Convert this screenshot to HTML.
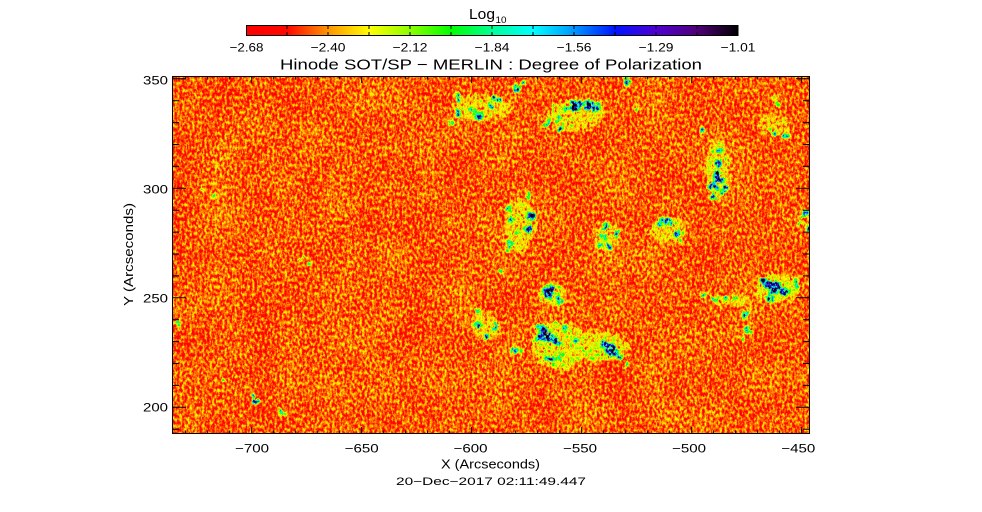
<!DOCTYPE html>
<html><head><meta charset="utf-8"><style>html,body{margin:0;padding:0;background:#fff;}svg{display:block;}text{font-family:"Liberation Sans",sans-serif;fill:#000;}</style></head>
<body>
<svg width="982" height="512" viewBox="0 0 982 512" xmlns="http://www.w3.org/2000/svg">
<defs>
<linearGradient id="cb" x1="0" x2="1" y1="0" y2="0">
<stop offset="0" stop-color="#ff0000"/>
<stop offset="0.0833" stop-color="#ff0800"/>
<stop offset="0.1667" stop-color="#ff9600"/>
<stop offset="0.25" stop-color="#ffff00"/>
<stop offset="0.3333" stop-color="#8cff00"/>
<stop offset="0.4167" stop-color="#00ff00"/>
<stop offset="0.5" stop-color="#00ff96"/>
<stop offset="0.5833" stop-color="#00ffff"/>
<stop offset="0.6667" stop-color="#0096ff"/>
<stop offset="0.75" stop-color="#0014ff"/>
<stop offset="0.8333" stop-color="#5000d2"/>
<stop offset="0.9167" stop-color="#500078"/>
<stop offset="1" stop-color="#000000"/>
</linearGradient>
<clipPath id="pc"><rect x="172" y="76" width="638" height="358"/></clipPath>
<filter id="tx" filterUnits="userSpaceOnUse" primitiveUnits="userSpaceOnUse" x="162" y="66" width="658" height="378" color-interpolation-filters="sRGB">
<feTurbulence type="fractalNoise" baseFrequency="0.4 0.28" numOctaves="3" seed="3" result="n1"/>
<feColorMatrix in="n1" type="matrix" values="1 0 0 0 0  1 0 0 0 0  1 0 0 0 0  0 0 0 0 1" result="gA"/>
<feColorMatrix in="n1" type="matrix" values="0 1.5 0 0 -0.25  0 1.5 0 0 -0.25  0 1.5 0 0 -0.25  0 0 0 0 1" result="gC"/>
<feTurbulence type="fractalNoise" baseFrequency="0.025" numOctaves="2" seed="7" result="n2"/>
<feColorMatrix in="n2" type="matrix" values="0 1 0 0 0  0 1 0 0 0  0 1 0 0 0  0 0 0 0 1" result="gB"/>
<feTurbulence type="fractalNoise" baseFrequency="0.12" numOctaves="2" seed="11" result="n3"/>
<feDisplacementMap in="SourceGraphic" in2="n3" scale="12" xChannelSelector="R" yChannelSelector="G" result="bd"/>
<feGaussianBlur in="bd" stdDeviation="1.1" result="bb"/>
<feComposite in="bb" in2="gC" operator="arithmetic" k1="2" k2="0" k3="0" k4="0" result="bm"/>
<feComposite in="gA" in2="gB" operator="arithmetic" k1="0" k2="0.85" k3="0.15" k4="0" result="s1"/>
<feComposite in="s1" in2="bm" operator="arithmetic" k1="0" k2="0.35" k3="0.65" k4="0" result="s2"/>
<feColorMatrix in="s2" type="matrix" values="1.385 0 0 0 -0.11  1.385 0 0 0 -0.11  1.385 0 0 0 -0.11  0 0 0 0 1" result="v"/>
<feComponentTransfer in="v">
<feFuncR type="table" tableValues="1 1 1 1 0.55 0 0 0 0 0 0.31 0.31 0"/>
<feFuncG type="table" tableValues="0 0.03 0.59 1 1 1 1 1 0.59 0.08 0 0 0"/>
<feFuncB type="table" tableValues="0 0 0 0 0 0 0.59 1 1 1 0.82 0.47 0"/>
<feFuncA type="linear" slope="0" intercept="1"/>
</feComponentTransfer>
</filter>
</defs>

<!-- data image -->
<g clip-path="url(#pc)">
<g filter="url(#tx)">
<rect x="162" y="66" width="658" height="378" fill="#000"/>
<!-- halos -->
<ellipse cx="575" cy="115" rx="28" ry="16" fill="#1c1c1c"/>
<ellipse cx="480" cy="108" rx="30" ry="14" fill="#161616"/>
<ellipse cx="520" cy="225" rx="15" ry="28" fill="#1a1a1a"/>
<ellipse cx="668" cy="230" rx="18" ry="12" fill="#1a1a1a"/>
<ellipse cx="552" cy="294" rx="14" ry="10" fill="#1e1e1e"/>
<ellipse cx="560" cy="345" rx="28" ry="24" fill="#222"/>
<ellipse cx="600" cy="347" rx="28" ry="15" fill="#222"/>
<ellipse cx="487" cy="327" rx="14" ry="14" fill="#1a1a1a"/>
<ellipse cx="717" cy="170" rx="12" ry="30" fill="#1c1c1c"/>
<ellipse cx="778" cy="288" rx="22" ry="14" fill="#1e1e1e"/>
<ellipse cx="606" cy="236" rx="12" ry="14" fill="#161616"/>
<ellipse cx="730" cy="300" rx="20" ry="6" fill="#161616"/>
<ellipse cx="775" cy="125" rx="16" ry="10" fill="#141414"/>
<!-- cluster A -->
<circle cx="458" cy="97" r="3" fill="#999"/>
<circle cx="457" cy="113" r="4" fill="#aaa"/>
<circle cx="450" cy="122" r="3" fill="#999"/>
<circle cx="479" cy="116" r="4" fill="#bbb"/>
<circle cx="473" cy="112" r="2" fill="#999"/>
<circle cx="497" cy="98" r="4" fill="#bbb"/>
<circle cx="492" cy="106" r="3" fill="#999"/>
<circle cx="517" cy="89" r="3" fill="#aaa"/>
<circle cx="522" cy="82" r="3" fill="#999"/>
<circle cx="575" cy="106" r="5" fill="#ccc"/>
<circle cx="588" cy="104" r="5" fill="#ccc"/>
<circle cx="596" cy="108" r="3" fill="#bbb"/>
<circle cx="566" cy="110" r="3" fill="#999"/>
<circle cx="558" cy="120" r="3" fill="#aaa"/>
<circle cx="560" cy="130" r="3" fill="#bbb"/>
<circle cx="548" cy="122" r="2" fill="#999"/>
<circle cx="628" cy="82" r="3" fill="#aaa"/>
<circle cx="638" cy="108" r="2" fill="#999"/>
<!-- cluster B -->
<circle cx="530" cy="196" r="3" fill="#777"/>
<circle cx="530" cy="216" r="4" fill="#ccc"/>
<circle cx="528" cy="228" r="3" fill="#bbb"/>
<circle cx="513" cy="218" r="3" fill="#aaa"/>
<circle cx="507" cy="209" r="2" fill="#999"/>
<circle cx="520" cy="233" r="2" fill="#999"/>
<circle cx="510" cy="243" r="3" fill="#aaa"/>
<circle cx="507" cy="250" r="2" fill="#999"/>
<circle cx="503" cy="270" r="2" fill="#999"/>
<!-- cluster C -->
<circle cx="607" cy="226" r="3" fill="#aaa"/>
<circle cx="602" cy="236" r="3" fill="#999"/>
<circle cx="608" cy="246" r="3" fill="#aaa"/>
<circle cx="617" cy="233" r="2" fill="#999"/>
<circle cx="598" cy="244" r="2" fill="#888"/>
<circle cx="660" cy="223" r="3" fill="#bbb"/>
<circle cx="668" cy="222" r="3" fill="#aaa"/>
<circle cx="677" cy="233" r="3" fill="#aaa"/>
<circle cx="681" cy="240" r="2" fill="#999"/>
<!-- cluster D -->
<circle cx="550" cy="294" r="5" fill="#ccc"/>
<circle cx="545" cy="288" r="3" fill="#999"/>
<circle cx="560" cy="300" r="3" fill="#888"/>
<!-- cluster E -->
<circle cx="545" cy="335" r="6" fill="#ccc"/>
<circle cx="555" cy="342" r="5" fill="#ccc"/>
<circle cx="550" cy="360" r="3" fill="#bbb"/>
<circle cx="540" cy="328" r="3" fill="#999"/>
<circle cx="565" cy="330" r="2" fill="#999"/>
<circle cx="575" cy="340" r="3" fill="#888"/>
<circle cx="560" cy="355" r="3" fill="#999"/>
<circle cx="612" cy="350" r="6" fill="#ccc"/>
<circle cx="605" cy="345" r="4" fill="#bbb"/>
<circle cx="620" cy="355" r="3" fill="#aaa"/>
<circle cx="627" cy="365" r="2" fill="#888"/>
<circle cx="520" cy="350" r="2" fill="#999"/>
<!-- cluster F -->
<circle cx="477" cy="323" r="3" fill="#aaa"/>
<circle cx="487" cy="337" r="3" fill="#aaa"/>
<circle cx="495" cy="328" r="3" fill="#999"/>
<circle cx="480" cy="313" r="2" fill="#999"/>
<circle cx="515" cy="350" r="2" fill="#999"/>
<!-- cluster G -->
<circle cx="717" cy="178" r="5" fill="#ccc"/>
<circle cx="713" cy="186" r="3" fill="#bbb"/>
<circle cx="720" cy="150" r="3" fill="#aaa"/>
<circle cx="718" cy="163" r="3" fill="#aaa"/>
<circle cx="713" cy="199" r="3" fill="#bbb"/>
<circle cx="725" cy="190" r="3" fill="#999"/>
<circle cx="703" cy="130" r="2" fill="#999"/>
<circle cx="773" cy="97" r="2" fill="#999"/>
<circle cx="778" cy="103" r="2" fill="#888"/>
<circle cx="775" cy="135" r="3" fill="#aaa"/>
<circle cx="785" cy="137" r="3" fill="#999"/>
<circle cx="768" cy="130" r="2" fill="#999"/>
<!-- cluster H -->
<circle cx="775" cy="288" r="7" fill="#ccc"/>
<circle cx="785" cy="292" r="5" fill="#ccc"/>
<circle cx="765" cy="283" r="4" fill="#bbb"/>
<circle cx="795" cy="285" r="3" fill="#aaa"/>
<circle cx="770" cy="298" r="3" fill="#aaa"/>
<circle cx="805" cy="215" r="3" fill="#aaa"/>
<circle cx="808" cy="228" r="3" fill="#aaa"/>
<circle cx="800" cy="222" r="2" fill="#888"/>
<circle cx="705" cy="296" r="2" fill="#888"/>
<circle cx="715" cy="300" r="2" fill="#999"/>
<circle cx="725" cy="297" r="2" fill="#888"/>
<circle cx="735" cy="298" r="2" fill="#888"/>
<circle cx="745" cy="315" r="2" fill="#999"/>
<circle cx="748" cy="330" r="3" fill="#aaa"/>
<circle cx="742" cy="338" r="2" fill="#999"/>
<!-- small ones -->
<circle cx="253" cy="396" r="2" fill="#aaa"/>
<circle cx="257" cy="403" r="3" fill="#bbb"/>
<circle cx="282" cy="413" r="2" fill="#999"/>
<circle cx="222" cy="379" r="1.5" fill="#888"/>
<circle cx="217" cy="167" r="2" fill="#666"/>
<circle cx="213" cy="195" r="2" fill="#999"/>
<circle cx="203" cy="187" r="2" fill="#666"/>
<circle cx="178" cy="322" r="2" fill="#999"/>
<circle cx="308" cy="262" r="2" fill="#999"/>
<circle cx="303" cy="258" r="2" fill="#666"/>
</g>
</g>

<!-- frame -->
<rect x="172.5" y="76.5" width="637" height="357" fill="none" stroke="#000" stroke-width="1"/>
<!-- ticks -->
<path stroke="#000" stroke-width="1" fill="none" d="
M185.7 434v-3.5M207.7 434v-3.5M229.7 434v-3.5M251.7 434v-7M273.7 434v-3.5M295.7 434v-3.5M317.7 434v-3.5M339.7 434v-3.5M361.7 434v-7M383.7 434v-3.5M405.7 434v-3.5M427.7 434v-3.5M449.7 434v-3.5M471.7 434v-7M493.7 434v-3.5M515.7 434v-3.5M537.7 434v-3.5M559.7 434v-3.5M581.7 434v-7M603.7 434v-3.5M625.7 434v-3.5M647.7 434v-3.5M669.7 434v-3.5M691.7 434v-7M713.7 434v-3.5M735.7 434v-3.5M757.7 434v-3.5M779.7 434v-3.5M801.7 434v-7
M185.7 76v3.5M207.7 76v3.5M229.7 76v3.5M251.7 76v7M273.7 76v3.5M295.7 76v3.5M317.7 76v3.5M339.7 76v3.5M361.7 76v7M383.7 76v3.5M405.7 76v3.5M427.7 76v3.5M449.7 76v3.5M471.7 76v7M493.7 76v3.5M515.7 76v3.5M537.7 76v3.5M559.7 76v3.5M581.7 76v7M603.7 76v3.5M625.7 76v3.5M647.7 76v3.5M669.7 76v3.5M691.7 76v7M713.7 76v3.5M735.7 76v3.5M757.7 76v3.5M779.7 76v3.5M801.7 76v7
M172 429.2h7M172 407.3h14M172 385.4h7M172 363.5h7M172 341.6h7M172 319.7h7M172 297.8h14M172 275.9h7M172 254h7M172 232.1h7M172 210.2h7M172 188.3h14M172 166.4h7M172 144.5h7M172 122.6h7M172 100.7h7M172 78.8h14
M810 429.2h-7M810 407.3h-14M810 385.4h-7M810 363.5h-7M810 341.6h-7M810 319.7h-7M810 297.8h-14M810 275.9h-7M810 254h-7M810 232.1h-7M810 210.2h-7M810 188.3h-14M810 166.4h-7M810 144.5h-7M810 122.6h-7M810 100.7h-7M810 78.8h-14
"/>

<!-- y tick labels -->
<g font-size="12" text-anchor="end">
<text x="168" y="84.3" textLength="25" lengthAdjust="spacingAndGlyphs">350</text>
<text x="168" y="193.3" textLength="25" lengthAdjust="spacingAndGlyphs">300</text>
<text x="168" y="302.4" textLength="25" lengthAdjust="spacingAndGlyphs">250</text>
<text x="168" y="411.7" textLength="25" lengthAdjust="spacingAndGlyphs">200</text>
</g>
<!-- x tick labels -->
<g font-size="12" text-anchor="middle">
<text x="252" y="452.7" textLength="34" lengthAdjust="spacingAndGlyphs">−700</text>
<text x="361.7" y="452.7" textLength="34" lengthAdjust="spacingAndGlyphs">−650</text>
<text x="470.5" y="452.7" textLength="34" lengthAdjust="spacingAndGlyphs">−600</text>
<text x="580" y="452.7" textLength="34" lengthAdjust="spacingAndGlyphs">−550</text>
<text x="689" y="452.7" textLength="34" lengthAdjust="spacingAndGlyphs">−500</text>
<text x="798.3" y="452.7" textLength="34" lengthAdjust="spacingAndGlyphs">−450</text>
</g>

<!-- axis titles -->
<text x="441" y="468.5" font-size="12.5" textLength="99" lengthAdjust="spacingAndGlyphs">X (Arcseconds)</text>
<text x="396" y="485.2" font-size="11" textLength="190" lengthAdjust="spacingAndGlyphs">20−Dec−2017 02:11:49.447</text>
<text transform="translate(133,306) rotate(-90)" x="0" y="0" font-size="12.5" textLength="103" lengthAdjust="spacingAndGlyphs">Y (Arcseconds)</text>

<!-- title -->
<text x="280" y="69.5" font-size="15" textLength="422" lengthAdjust="spacingAndGlyphs">Hinode SOT/SP − MERLIN : Degree of Polarization</text>

<!-- colorbar -->
<text x="469" y="19" font-size="14.5" textLength="26" lengthAdjust="spacingAndGlyphs">Log</text>
<text x="495.5" y="23" font-size="9.5" textLength="11" lengthAdjust="spacingAndGlyphs">10</text>
<rect x="246.5" y="25.5" width="491.5" height="10" fill="url(#cb)" stroke="#000" stroke-width="1"/>
<path stroke="#000" stroke-width="1" d="M287 26v3M328 26v3M369 26v3M410 26v3M451 26v3M492 26v3M533 26v3M574 26v3M615 26v3M656 26v3M697 26v3
M287 35v-3M328 35v-3M369 35v-3M410 35v-3M451 35v-3M492 35v-3M533 35v-3M574 35v-3M615 35v-3M656 35v-3M697 35v-3"/>
<g font-size="12" text-anchor="middle">
<text x="246.5" y="51.7" textLength="34" lengthAdjust="spacingAndGlyphs">−2.68</text>
<text x="328" y="51.7" textLength="35" lengthAdjust="spacingAndGlyphs">−2.40</text>
<text x="410" y="51.7" textLength="35" lengthAdjust="spacingAndGlyphs">−2.12</text>
<text x="492" y="51.7" textLength="35" lengthAdjust="spacingAndGlyphs">−1.84</text>
<text x="574" y="51.7" textLength="35" lengthAdjust="spacingAndGlyphs">−1.56</text>
<text x="656" y="51.7" textLength="35" lengthAdjust="spacingAndGlyphs">−1.29</text>
<text x="738" y="51.7" textLength="35" lengthAdjust="spacingAndGlyphs">−1.01</text>
</g>
</svg>
</body></html>
